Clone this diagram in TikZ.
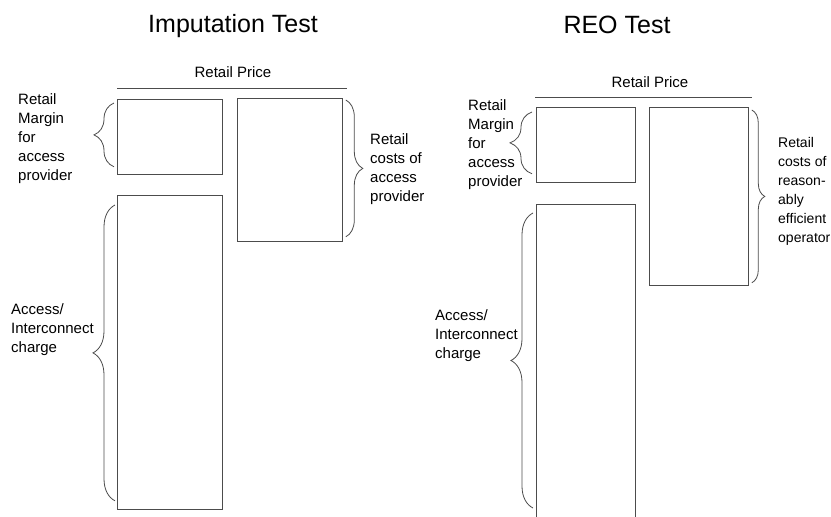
\documentclass[tikz,border=0pt]{standalone}
\usepackage{fontspec}
\setmainfont{Liberation Sans}
\usetikzlibrary{positioning,decorations.pathreplacing}

\begin{document}
\begin{tikzpicture}[x=1pt,y=-1pt,
    costbox/.style={rectangle,draw=black!70,line width=0.8pt,inner sep=0pt,anchor=north west},
    txt/.style={align=left,anchor=north west,inner sep=0pt,font=\fontsize{15}{19}\selectfont},
    heading/.style={inner sep=0pt,font=\fontsize{25}{28}\selectfont},
    pricelbl/.style={inner sep=0pt,font=\fontsize{15}{19}\selectfont},
    curly/.style={decorate,decoration={brace,amplitude=#1},draw=black!70,line width=0.8pt},
   ]
    \useasboundingbox (0,0) rectangle (831,517);
    \clip (0,0) rectangle (831,517);

    % Imputation Test
    \node (impTitle) [heading] at (233,26) {Imputation Test};
    \node (impPrice) [pricelbl] at (233,72) {Retail Price};
    \coordinate (impLineL) at (117,88);
    \coordinate (impLineR) at (347,88);
    \draw[black!70, line width=0.8pt] (impLineL) -- (impLineR);

    \node (impMargin) [costbox,minimum width=105pt,minimum height=75pt]  at (117,99)  {};
    \node (impCosts)  [costbox,minimum width=105pt,minimum height=143pt] at (237,98)  {};
    \node (impAccess) [costbox,minimum width=105pt,minimum height=314pt] at (117,195) {};

    \node (impMarginTxt) [txt] at (18,93)  {Retail\\Margin\\for\\access\\provider};
    \node (impCostsTxt)  [txt] at (370,133) {Retail\\costs of\\access\\provider};
    \node (impAccessTxt) [txt] at (11,303) {Access/\\Interconnect\\charge};

    \draw[curly=20pt] ([shift={(-3,-8)}]impMargin.south west) -- ([shift={(-3,4)}]impMargin.north west);
    \draw[curly=17pt] ([shift={(3,2)}]impCosts.north east) -- ([shift={(3,-5)}]impCosts.south east);
    \draw[curly=22pt] ([shift={(-2,-9)}]impAccess.south west) -- ([shift={(-2,10)}]impAccess.north west);

    % REO Test
    \node (reoTitle) [heading] at (617,25) {REO Test};
    \node (reoPrice) [pricelbl] at (650,82) {Retail Price};
    \coordinate (reoLineL) at (535,97);
    \coordinate (reoLineR) at (752,97);
    \draw[black!70, line width=0.8pt] (reoLineL) -- (reoLineR);

    \node (reoMargin) [costbox,minimum width=99pt,minimum height=75pt]  at (536,107) {};
    \node (reoCosts)  [costbox,minimum width=99pt,minimum height=178pt] at (649,107) {};
    \node (reoAccess) [costbox,minimum width=99pt,minimum height=330pt] at (536,204) {};

    \node (reoMarginTxt) [txt] at (468,99)  {Retail\\Margin\\for\\access\\provider};
    \node (reoCostsTxt)  [txt,font=\fontsize{14}{19}\selectfont] at (778,137) {Retail\\costs of\\reason-\\ably\\efficient\\operator};
    \node (reoAccessTxt) [txt] at (435,309) {Access/\\Interconnect\\charge};

    \draw[curly=22pt] ([shift={(-4,-9)}]reoMargin.south west) -- ([shift={(-4,5)}]reoMargin.north west);
    \draw[curly=13pt] ([shift={(3,3)}]reoCosts.north east) -- ([shift={(3,-3)}]reoCosts.south east);
    \draw[curly=22pt] ([shift={(-3,304)}]reoAccess.north west) -- ([shift={(-3,9)}]reoAccess.north west);
\end{tikzpicture}
\end{document}
